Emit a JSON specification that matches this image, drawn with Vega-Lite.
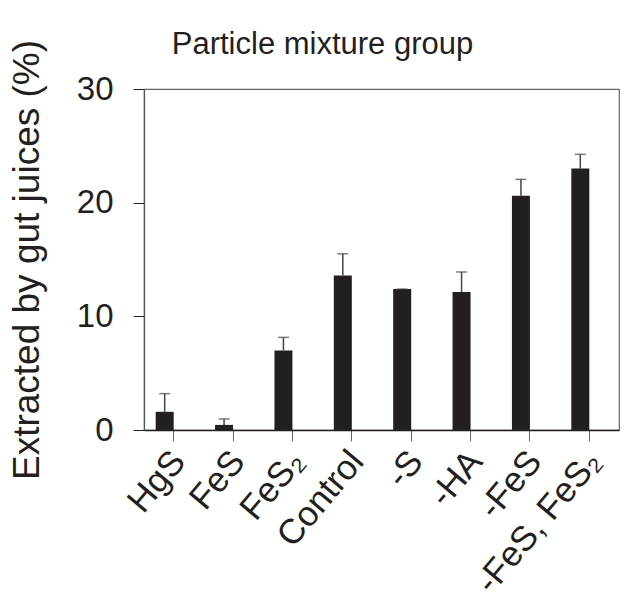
{
  "$schema": "https://vega.github.io/schema/vega-lite/v6.json",
  "autosize": "none",
  "width": 475,
  "height": 341,
  "padding": {"left": 144, "top": 89, "right": 9, "bottom": 173},
  "background": "white",
  "config": {
    "font": "Liberation Sans",
    "view": {"stroke": "#666666", "strokeWidth": 1.2}
  },
  "title": {
    "text": "Particle mixture group",
    "fontSize": 31,
    "fontWeight": "normal",
    "color": "#231f20",
    "anchor": "middle",
    "dx": -59,
    "offset": -22
  },
  "data": {
    "values": [
      {"group": "HgS", "value": 1.6, "upper": 3.2},
      {"group": "FeS", "value": 0.45, "upper": 0.97},
      {"group": "FeS₂", "value": 7.0, "upper": 8.15},
      {"group": "Control", "value": 13.6, "upper": 15.5},
      {"group": "-S", "value": 12.4, "upper": 12.4},
      {"group": "-HA", "value": 12.15, "upper": 13.9},
      {"group": "-FeS", "value": 20.6, "upper": 22.05},
      {"group": "-FeS, FeS₂", "value": 23.0, "upper": 24.25}
    ]
  },
  "encoding": {
    "x": {
      "field": "group",
      "type": "nominal",
      "sort": null,
      "scale": {"paddingInner": 0, "paddingOuter": 0},
      "axis": {
        "title": null,
        "labelAngle": -50,
        "labelFontSize": 35,
        "labelColor": "#231f20",
        "labelPadding": 14,
        "labelOffset": 5,
        "tickSize": 11,
        "tickColor": "#666666",
        "domainColor": "#231f20",
        "domainWidth": 1.5
      }
    }
  },
  "layer": [
    {
      "mark": {"type": "bar", "color": "#231f20", "width": 18, "xOffset": -9},
      "encoding": {
        "y": {
          "field": "value",
          "type": "quantitative",
          "scale": {"domain": [0, 30], "nice": false},
          "axis": {
            "title": "Extracted by gut juices (%)",
            "titleFontSize": 37,
            "titleFontWeight": "normal",
            "titleColor": "#231f20",
            "titlePadding": 30,
            "values": [0, 10, 20, 30],
            "labelFontSize": 33,
            "labelColor": "#231f20",
            "labelPadding": 20,
            "tickSize": 11,
            "tickColor": "#231f20",
            "domainColor": "#555555",
            "domainWidth": 1.2,
            "grid": false
          }
        }
      }
    },
    {
      "mark": {"type": "rule", "color": "#444444", "strokeWidth": 1.5, "xOffset": -9},
      "encoding": {
        "y": {"field": "value", "type": "quantitative"},
        "y2": {"field": "upper"}
      }
    },
    {
      "mark": {"type": "tick", "color": "#444444", "thickness": 1.5, "size": 11, "orient": "horizontal", "xOffset": -9},
      "encoding": {
        "y": {"field": "upper", "type": "quantitative"}
      }
    }
  ]
}
